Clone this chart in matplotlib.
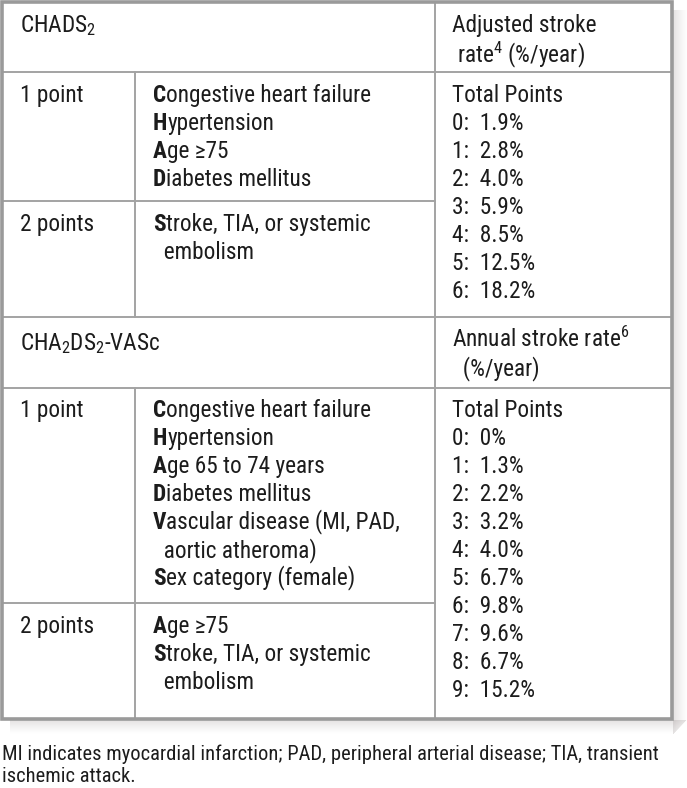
import matplotlib
matplotlib.use("Agg")
import matplotlib.pyplot as plt
from matplotlib.patches import Rectangle

# ---------------- data ----------------
chads_title = "CHADS$_2$"
chads_rate_header = ["Adjusted stroke", " rate$^4$ (%/year)"]
chads_1pt = ["Congestive heart failure", "Hypertension", "Age \u226575", "Diabetes mellitus"]
chads_2pt = ["Stroke, TIA, or systemic", "  embolism"]
chads_scores = ["0", "1", "2", "3", "4", "5", "6"]
chads_rates = ["1.9%", "2.8%", "4.0%", "5.9%", "8.5%", "12.5%", "18.2%"]

vasc_title = "CHA$_2$DS$_2$-VASc"
vasc_rate_header = ["Annual stroke rate$^6$", "  (%/year)"]
vasc_1pt = ["Congestive heart failure", "Hypertension", "Age 65 to 74 years",
            "Diabetes mellitus", "Vascular disease (MI, PAD,", "  aortic atheroma)",
            "Sex category (female)"]
vasc_2pt = ["Age \u226575", "Stroke, TIA, or systemic", "  embolism"]
vasc_scores = ["0", "1", "2", "3", "4", "5", "6", "7", "8", "9"]
vasc_rates = ["0%", "1.3%", "2.2%", "3.2%", "4.0%", "6.7%", "9.8%", "9.6%", "6.7%", "15.2%"]

point_labels = ["1 point", "2 points"]
footnote = ["MI indicates myocardial infarction; PAD, peripheral arterial disease; TIA, transient",
            "ischemic attack."]

# ---------------- style ----------------
FONT = ["Roboto Condensed", "Liberation Sans", "DejaVu Sans"]
plt.rcParams["font.family"] = FONT
plt.rcParams["mathtext.fontset"] = "custom"
plt.rcParams["mathtext.rm"] = "Roboto Condensed"
plt.rcParams["mathtext.it"] = "Roboto Condensed"
plt.rcParams["mathtext.bf"] = "Roboto Condensed:bold"
plt.rcParams["mathtext.sf"] = "Roboto Condensed"

W, H = 687, 788
fig = plt.figure(figsize=(W / 100, H / 100), dpi=100)
ax = fig.add_axes([0, 0, 1, 1])
ax.set_xlim(0, W)
ax.set_ylim(H, 0)
ax.axis("off")
renderer = fig.canvas.get_renderer()


def fit_size(s, target_px, base=20.0):
    t = fig.text(0, 0, s, fontsize=base)
    w = t.get_window_extent(renderer).width
    t.remove()
    return base * target_px / w


FS = min(fit_size("Congestive heart failure", 218), fit_size("Vascular disease (MI, PAD,", 270), 18.5)
FS_FOOT = fit_size(footnote[0], 652)
LH = 28
TXT = "#1c1c1c"
LINE = "#a3a3a3"

# layout
x0, x1, x2, x3 = 2, 135, 435, 672
y_top, y_bot = 2, 719
c0x, c1x, c2x = 20, 153, 452

# shadow
for i in range(15):
    a = 0.17 * (1 - i / 15) ** 1.3
    ax.add_patch(Rectangle((x3 + 1 + i, 10), 1, y_bot - 10 + 15 - i, color="#6a5a5a", alpha=a, lw=0, zorder=0))
for i in range(14):
    a = 0.17 * (1 - i / 14) ** 1.3
    ax.add_patch(Rectangle((10, y_bot + 1 + i), x3 - 10 + 14 - i, 1, color="#6a5a5a", alpha=a, lw=0, zorder=0))
ax.add_patch(Rectangle((x0, y_top), x3 - x0, y_bot - y_top, facecolor="white", edgecolor="none", zorder=1))


def txt(x, y, s, **kw):
    return ax.text(x, y, s, fontsize=kw.pop("fs", FS), color=TXT, va="baseline", ha="left", zorder=5, **kw)


def lead_bold(x, y, s):
    if s.startswith(" "):
        txt(x, y, s)
        return
    b = ax.text(x, y, s[0], fontsize=FS, color=TXT, fontweight="bold", va="baseline", ha="left", zorder=5)
    ax.annotate(s[1:], xy=(1, 0), xycoords=b, va="bottom", ha="left",
                fontsize=FS, color=TXT, zorder=5)


def block(y_title, y_h1, y_h2, y_row1, y_div, title, rate_header, pts1, pts2, scores, rates):
    txt(c0x, y_title, title)
    txt(c2x, y_h1, rate_header[0])
    txt(c2x, y_h2, rate_header[1])
    base = y_row1
    txt(c0x, base, point_labels[0])
    for i, s in enumerate(pts1):
        lead_bold(c1x, base + i * LH, s)
    base2 = y_div + 30
    txt(c0x, base2, point_labels[1])
    for i, s in enumerate(pts2):
        lead_bold(c1x, base2 + i * LH, s)
    txt(c2x, base, "Total Points")
    for i, (sc, r) in enumerate(zip(scores, rates)):
        txt(c2x, base + (i + 1) * LH, f"{sc}:  {r}")


# grid lines
lw_in = 1.4
ax.plot([x0, x3], [72, 72], color=LINE, lw=lw_in, zorder=3)
ax.plot([x0, x2], [201, 201], color=LINE, lw=lw_in, zorder=3)
ax.plot([x0, x3], [317, 317], color=LINE, lw=lw_in, zorder=3)
ax.plot([x0, x3], [388, 388], color=LINE, lw=lw_in, zorder=3)
ax.plot([x0, x2], [603, 603], color=LINE, lw=lw_in, zorder=3)
ax.plot([x1, x1], [72, 317], color=LINE, lw=lw_in, zorder=3)
ax.plot([x1, x1], [388, y_bot], color=LINE, lw=lw_in, zorder=3)
ax.plot([x2, x2], [y_top, y_bot], color=LINE, lw=lw_in, zorder=3)
ax.add_patch(Rectangle((x0, y_top), x3 - x0, y_bot - y_top, facecolor="none",
                       edgecolor="#9a9a9a", lw=2.6, zorder=4))

block(32, 32, 62, 102, 201, chads_title, chads_rate_header, chads_1pt, chads_2pt, chads_scores, chads_rates)
block(350, 347, 375, 417, 603, vasc_title, vasc_rate_header, vasc_1pt, vasc_2pt, vasc_scores, vasc_rates)

txt(2, 760, footnote[0], fs=FS_FOOT)
txt(2, 782, footnote[1], fs=FS_FOOT)

fig.savefig("out.png", dpi=100)
